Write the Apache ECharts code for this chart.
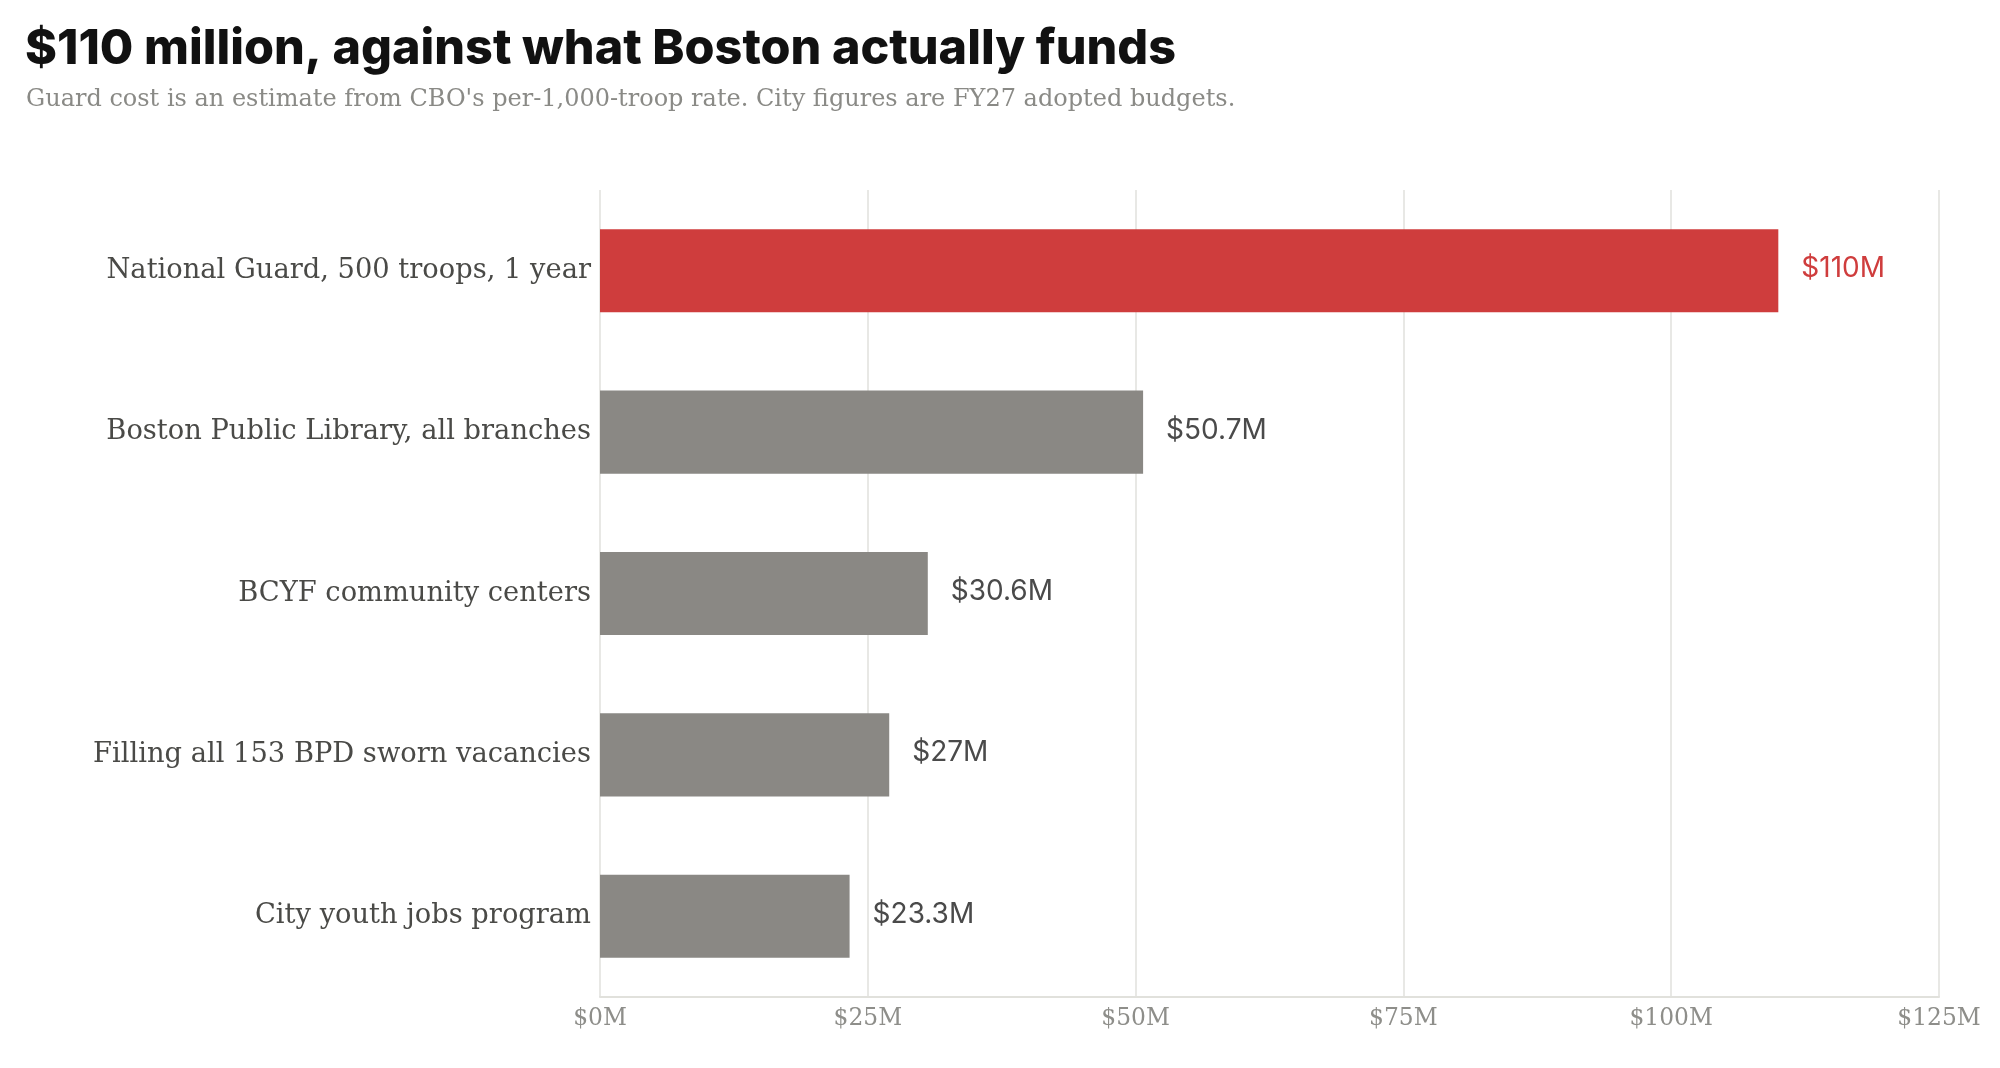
<!DOCTYPE html>
<html>
<head>
<meta charset="utf-8">
<script src="https://cdn.jsdelivr.net/npm/echarts@6/dist/echarts.min.js"></script>
<style>
  html, body { margin: 0; padding: 0; background: #fff; }
  #chart { width: 2000px; height: 1068px; }
</style>
</head>
<body>
<div id="chart"></div>
<script>
// data
const categories = [
  "National Guard, 500 troops, 1 year",
  "Boston Public Library, all branches",
  "BCYF community centers",
  "Filling all 153 BPD sworn vacancies",
  "City youth jobs program"
];
const values = [110, 50.7, 30.6, 27, 23.3];
const xTicks = [0, 25, 50, 75, 100, 125];

const RED = "#cf3d3d";
const GRAY = "#8a8884";
const SERIF = "DejaVu Serif";

const chart = echarts.init(document.getElementById("chart"));

const option = {
  backgroundColor: "#fff",
  animation: false,
  title: [
    {
      text: "$110 million, against what Boston actually funds",
      left: 20,
      top: 20,
      textStyle: { fontFamily: "Inter", fontWeight: 800, fontSize: 48.5, color: "#111" }
    },
    {
      text: "Guard cost is an estimate from CBO's per-1,000-troop rate. City figures are FY27 adopted budgets.",
      left: 21,
      top: 83,
      textStyle: { fontFamily: SERIF, fontWeight: 400, fontSize: 24, color: "#8a8a86" }
    }
  ],
  grid: { left: 600, right: 61, top: 190, bottom: 71, containLabel: false },
  xAxis: {
    type: "value",
    min: xTicks[0],
    max: xTicks[xTicks.length - 1],
    interval: 25,
    axisLine: { show: true, lineStyle: { color: "#e1e1dc", width: 2 } },
    axisTick: { show: false },
    splitLine: { show: true, lineStyle: { color: "#e1e1dc", width: 1.5 } },
    axisLabel: {
      margin: 10,
      formatter: (v) => "$" + v + "M",
      fontFamily: SERIF,
      fontSize: 23.4,
      color: "#8e8e8a"
    }
  },
  yAxis: {
    type: "category",
    data: categories,
    inverse: true,
    axisLine: { show: false },
    axisTick: { show: false },
    splitLine: { show: false },
    axisLabel: {
      margin: 9,
      fontFamily: SERIF,
      fontSize: 27.3,
      color: "#4a4a47"
    }
  },
  series: [
    {
      type: "bar",
      barWidth: "51.5%",
      data: values.map((v, i) => ({
        value: v,
        itemStyle: { color: i === 0 ? RED : GRAY },
        label: { color: i === 0 ? RED : "#4a4a4a" }
      })),
      label: {
        show: true,
        position: "right",
        distance: 23,
        offset: [0, -2],
        formatter: (p) => "$" + p.value + "M",
        fontFamily: "Inter",
        fontSize: 28,
        fontWeight: 400
      }
    }
  ]
};

chart.setOption(option);
window.addEventListener("resize", () => chart.resize());
</script>
</body>
</html>
